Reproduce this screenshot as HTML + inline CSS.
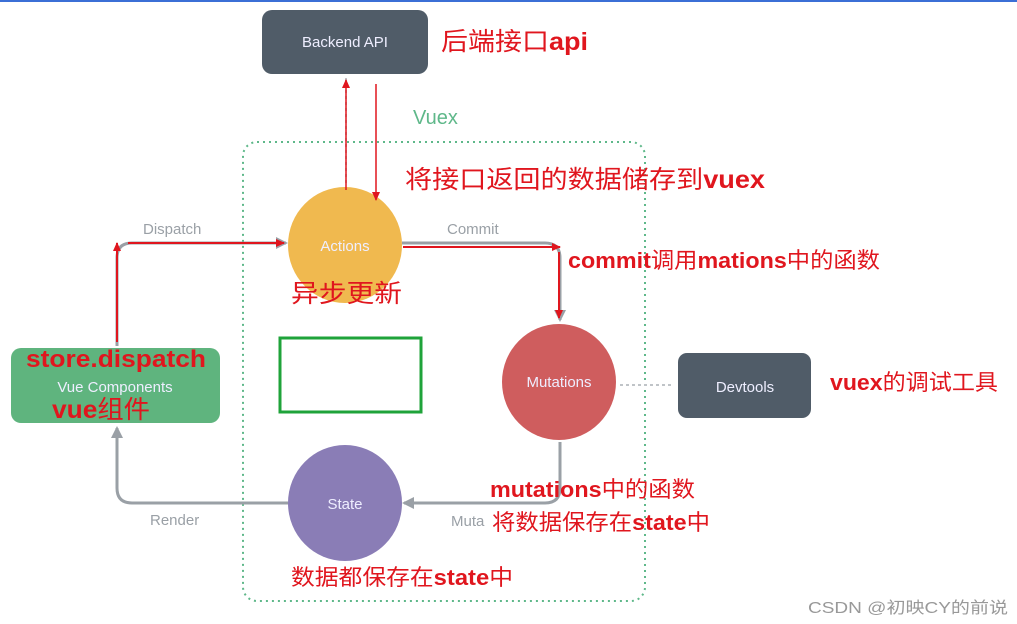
<!DOCTYPE html>
<html><head><meta charset="utf-8"><style>
body{margin:0;background:#fff;width:1017px;height:624px;overflow:hidden}
svg{display:block}
.r{fill:#e0161e;font-family:"Liberation Sans","Noto Sans CJK SC",sans-serif}
.g{fill:#9aa0a6;font-family:"Liberation Sans",sans-serif;font-size:15px}
.w{fill:#eef;font-family:"Liberation Sans",sans-serif;font-size:15px;text-anchor:middle}
</style></head><body>
<svg width="1017" height="624" viewBox="0 0 1017 624">
<defs>
<marker id="ga" markerUnits="userSpaceOnUse" markerWidth="14" markerHeight="14" refX="10" refY="7" orient="auto"><path d="M0,1L12,7L0,13z" fill="#9aa0a6"/></marker>
<marker id="ra" markerUnits="userSpaceOnUse" markerWidth="10" markerHeight="10" refX="8" refY="5" orient="auto"><path d="M0,1L9,5L0,9z" fill="#e0161e"/></marker>
</defs>
<line x1="0" y1="1" x2="1017" y2="1" stroke="#3b6fd6" stroke-width="2"/>
<rect x="243" y="142" width="402" height="459" rx="14" fill="none" stroke="#5fb88a" stroke-width="2" stroke-dasharray="2,4"/>
<text x="413" y="124" font-family="Liberation Sans" font-size="20" fill="#5fb88a">Vuex</text>
<rect x="262" y="10" width="166" height="64" rx="10" fill="#505c68"/>
<text x="345" y="47" class="w">Backend API</text>
<path d="M346,78V186" stroke="#c0c4c8" stroke-width="2" stroke-dasharray="3,3" fill="none"/>
<path d="M117,346V258Q117,243 132,243H286" stroke="#9aa0a6" stroke-width="3" fill="none" marker-end="url(#ga)"/>
<path d="M402,243H545Q560,243 560,258V320" stroke="#9aa0a6" stroke-width="3" fill="none" marker-end="url(#ga)"/>
<path d="M560,442V488Q560,503 545,503H404" stroke="#9aa0a6" stroke-width="3" fill="none" marker-end="url(#ga)"/>
<path d="M288,503H132Q117,503 117,488V428" stroke="#9aa0a6" stroke-width="3" fill="none" marker-end="url(#ga)"/>
<path d="M620,385H674" stroke="#c0c4c8" stroke-width="2" stroke-dasharray="3,3" fill="none"/>
<text x="143" y="234" class="g">Dispatch</text>
<text x="447" y="234" class="g">Commit</text>
<text x="150" y="525" class="g">Render</text>
<text x="451" y="526" class="g">Muta</text>
<ellipse cx="345" cy="245" rx="57" ry="58" fill="#f0b94f"/>
<text x="345" y="251" class="w">Actions</text>
<ellipse cx="559" cy="382" rx="57" ry="58" fill="#cf5d5e"/>
<text x="559" y="387" class="w">Mutations</text>
<ellipse cx="345" cy="503" rx="57" ry="58" fill="#8a7db6"/>
<text x="345" y="509" class="w">State</text>
<rect x="11" y="348" width="209" height="75" rx="10" fill="#5fb47e"/>
<text x="115" y="392" class="w">Vue Components</text>
<rect x="678" y="353" width="133" height="65" rx="9" fill="#505c68"/>
<text x="745" y="392" class="w">Devtools</text>
<rect x="280" y="338" width="141" height="74" fill="none" stroke="#1fa33a" stroke-width="3"/>
<path d="M346,190V80" stroke="#e0161e" stroke-width="1.5" fill="none" marker-end="url(#ra)"/>
<path d="M376,84V200" stroke="#e0161e" stroke-width="1.5" fill="none" marker-end="url(#ra)"/>
<path d="M117,342V243" stroke="#e0161e" stroke-width="2" fill="none" marker-end="url(#ra)"/>
<path d="M128,243H284" stroke="#e0161e" stroke-width="2" fill="none" marker-end="url(#ra)"/>
<path d="M403,247H560" stroke="#e0161e" stroke-width="2" fill="none" marker-end="url(#ra)"/>
<path d="M559,252V318" stroke="#e0161e" stroke-width="2" fill="none" marker-end="url(#ra)"/>
<text x="441" y="50" class="r" font-size="25" textLength="147" lengthAdjust="spacingAndGlyphs">后端接口<tspan font-weight="bold">api</tspan></text>
<text x="405" y="188" class="r" font-size="25" textLength="360" lengthAdjust="spacingAndGlyphs">将接口返回的数据储存到<tspan font-weight="bold">vuex</tspan></text>
<text x="568" y="268" class="r" font-size="22" textLength="312" lengthAdjust="spacingAndGlyphs"><tspan font-weight="bold">commit</tspan>调用<tspan font-weight="bold">mations</tspan>中的函数</text>
<text x="291" y="302" class="r" font-size="25" textLength="111" lengthAdjust="spacingAndGlyphs">异步更新</text>
<text x="26" y="367" class="r" font-size="24" font-weight="bold" textLength="180" lengthAdjust="spacingAndGlyphs">store.dispatch</text>
<text x="52" y="418" class="r" font-size="25" textLength="98" lengthAdjust="spacingAndGlyphs"><tspan font-weight="bold">vue</tspan>组件</text>
<text x="830" y="390" class="r" font-size="22" textLength="168" lengthAdjust="spacingAndGlyphs"><tspan font-weight="bold">vuex</tspan>的调试工具</text>
<text x="490" y="497" class="r" font-size="22" textLength="205" lengthAdjust="spacingAndGlyphs"><tspan font-weight="bold">mutations</tspan>中的函数</text>
<text x="492" y="530" class="r" font-size="22" textLength="218" lengthAdjust="spacingAndGlyphs">将数据保存在<tspan font-weight="bold">state</tspan>中</text>
<text x="291" y="585" class="r" font-size="22" textLength="222" lengthAdjust="spacingAndGlyphs">数据都保存在<tspan font-weight="bold">state</tspan>中</text>
<text x="808" y="613" font-family="Liberation Sans,Noto Sans CJK SC,sans-serif" font-size="16" fill="#999" textLength="200" lengthAdjust="spacingAndGlyphs">CSDN @初映CY的前说</text>
</svg>
</body></html>
